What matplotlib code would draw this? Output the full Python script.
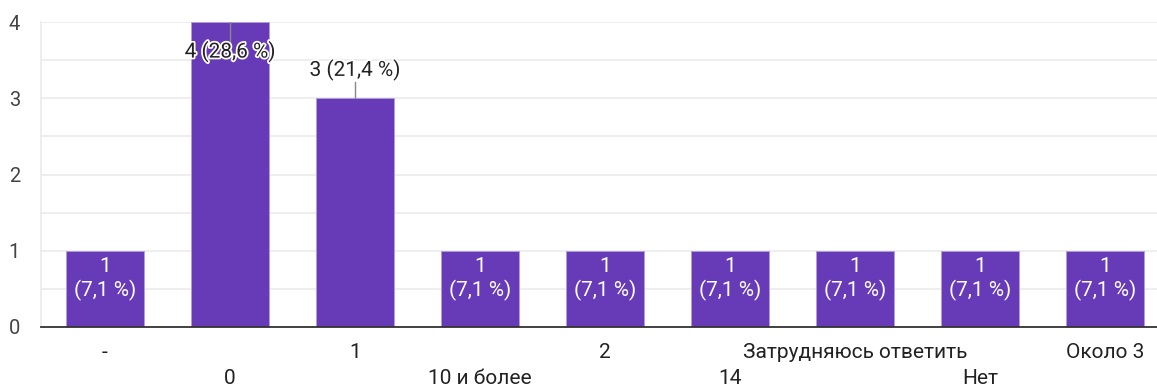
import matplotlib.pyplot as plt
import matplotlib.patheffects as pe

plt.rcParams['font.family'] = ['Roboto', 'DejaVu Sans']

categories = ['-', '0', '1', '10 и более', '2', '14', 'Затрудняюсь ответить', 'Нет', 'Около 3']
counts = [1, 4, 3, 1, 1, 1, 1, 1, 1]
percents = ['7,1', '28,6', '21,4', '7,1', '7,1', '7,1', '7,1', '7,1', '7,1']

BAR_COLOR = '#673ab7'
TEXT_COLOR = '#222222'
GRID_COLOR = '#ebebeb'
LABEL_SIZE = 15

fig = plt.figure(figsize=(11.57, 3.87), dpi=100)
ax = fig.add_axes([41 / 1157, 60 / 387, 1 - 41 / 1157, 305 / 387])

xs = list(range(len(categories)))
ax.bar(xs, counts, width=0.62, color=BAR_COLOR, edgecolor='#b39ddb', linewidth=0.6, zorder=3)

ax.set_xlim(-0.512, 8.416)
ax.set_ylim(0, 4)
ax.set_yticks([0, 1, 2, 3, 4])
ax.set_yticks([0.5, 1.5, 2.5, 3.5], minor=True)
ax.grid(True, axis='y', which='both', color=GRID_COLOR, linewidth=1.2, zorder=0)
ax.tick_params(axis='y', which='both', length=0, labelsize=14.5, labelcolor='#444444', pad=15)
ax.set_xticks([])
for side in ['top', 'right']:
    ax.spines[side].set_visible(False)
ax.spines['left'].set_color(GRID_COLOR)
ax.spines['left'].set_linewidth(1.2)
ax.spines['bottom'].set_color('#333333')
ax.spines['bottom'].set_linewidth(1.3)
ax.spines['bottom'].set_zorder(4)

# category labels in two staggered rows
for x, name in zip(xs, categories):
    row_offset = -0.328 if x % 2 == 0 else -0.67
    ax.text(x, row_offset, name, ha='center', va='center', fontsize=LABEL_SIZE,
            color=TEXT_COLOR, clip_on=False)

halo = [pe.withStroke(linewidth=2.5, foreground='white')]
for x, count, pct in zip(xs, counts, percents):
    if count == 1:
        ax.text(x, 0.787, f'{count}', ha='center', va='center', fontsize=LABEL_SIZE,
                color='white', zorder=5)
        ax.text(x, 0.48, f'({pct} %)', ha='center', va='center', fontsize=LABEL_SIZE,
                color='white', zorder=5)
    elif count == 4:
        ax.plot([x, x], [4.0, 3.74], color='#888888', linewidth=1, zorder=4)
        ax.text(x, 3.61, f'{count} ({pct} %)', ha='center', va='center', fontsize=LABEL_SIZE,
                color=TEXT_COLOR, path_effects=halo, zorder=5)
    else:
        ax.plot([x, x], [count, count + 0.215], color='#888888', linewidth=1, zorder=4)
        ax.text(x, count + 0.37, f'{count} ({pct} %)', ha='center', va='center', fontsize=LABEL_SIZE,
                color=TEXT_COLOR, path_effects=halo, zorder=5)

fig.savefig('out.png', dpi=100)
